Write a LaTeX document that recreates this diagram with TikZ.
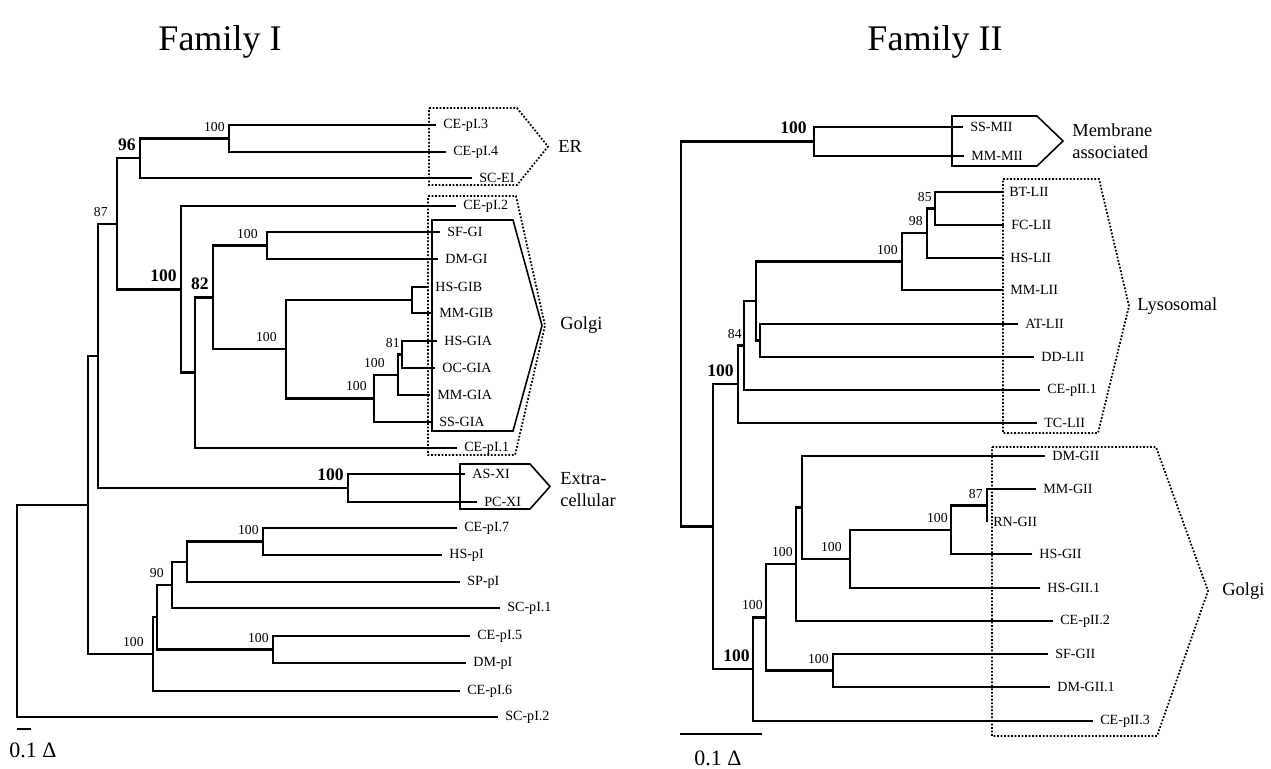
\documentclass[tikz,border=0pt]{standalone}
\usepackage{fontspec}
\setmainfont{Liberation Serif}
\usetikzlibrary{positioning}
\tikzset{
	branch/.style={line width=1.4pt},
	leaf/.style={anchor=west, inner xsep=0.14cm, inner ysep=0pt, font=\fontsize{8}{9}\selectfont},
	boot/.style={anchor=south east, inner sep=0pt, xshift=-0.08cm, yshift=0.14cm, font=\fontsize{7.8}{9}\selectfont},
	bootbold/.style={boot, font=\fontsize{10}{12}\selectfont\bfseries}
}
\begin{document}
\begin{tikzpicture}[
		x=0.02cm, y=-0.02cm,
		groupbox/.style={line width=0.9pt},
		dotbox/.style={line width=1pt, dash pattern=on 1pt off 1pt},
		grouplabel/.style={inner sep=0pt, align=left, font=\fontsize{10.5}{12.8}\selectfont},
		famtitle/.style={font=\fontsize{20.5}{24}\selectfont},
		scalebar/.style={line width=1.6pt},
		scaletext/.style={font=\fontsize{12.5}{14}\selectfont}
		]
		\useasboundingbox (0,0) rectangle (1271,768);
		
		% Family I
		\node[famtitle] (title1) at (220,42) {Family I};
		
		\node[leaf] (ce3) at (436,125) {CE-pI.3};
		\node[leaf] (ce4) at (446,152) {CE-pI.4};
		\node[leaf] (scei) at (472,178) {SC-EI};
		\node[leaf] (ce2) at (456,206) {CE-pI.2};
		\node[leaf] (sfgi) at (440,232) {SF-GI};
		\node[leaf] (dmgi) at (438,259) {DM-GI};
		\node[leaf] (hsgib) at (428,287) {HS-GIB};
		\node[leaf] (mmgib) at (432,313) {MM-GIB};
		\node[leaf] (hsgia) at (437,341) {HS-GIA};
		\node[leaf] (ocgia) at (435,368) {OC-GIA};
		\node[leaf] (mmgia) at (430,395) {MM-GIA};
		\node[leaf] (ssgia) at (432,422) {SS-GIA};
		\node[leaf] (ce1) at (457,448) {CE-pI.1};
		\node[leaf] (asxi) at (465,474) {AS-XI};
		\node[leaf] (pcxi) at (477,502) {PC-XI};
		\node[leaf] (ce7) at (457,528) {CE-pI.7};
		\node[leaf] (hspi) at (442,555) {HS-pI};
		\node[leaf] (sppi) at (460,582) {SP-pI};
		\node[leaf] (sc1) at (500,608) {SC-pI.1};
		\node[leaf] (ce5) at (470,636) {CE-pI.5};
		\node[leaf] (dmpi) at (466,663) {DM-pI};
		\node[leaf] (ce6) at (460,691) {CE-pI.6};
		\node[leaf] (sc2) at (498,717) {SC-pI.2};
		
		\coordinate (a1) at (229,138.5);
		\coordinate (a2) at (140,158.25);
		\coordinate (gib) at (412,300);
		\coordinate (g81) at (402,354.5);
		\coordinate (g100i) at (398,374.75);
		\coordinate (g100o) at (374,398.4);
		\coordinate (g286) at (286,349.2);
		\coordinate (g100sf) at (267,245.5);
		\coordinate (g82) at (213,297.35);
		\coordinate (g195) at (195,372.7);
		\coordinate (g100b) at (181,289.3);
		\coordinate (n87) at (117,223.8);
		\coordinate (xi) at (348,488);
		\coordinate (n98) at (98,355.9);
		\coordinate (p100a) at (263,541.5);
		\coordinate (p187) at (187,561.75);
		\coordinate (p90) at (172,584.9);
		\coordinate (p100b) at (273,649.5);
		\coordinate (p157) at (157,617.2);
		\coordinate (p100c) at (153,654.1);
		\coordinate (n88) at (88,505);
		\coordinate (root1) at (17,611);
		
		\draw[branch] (ce3.west) -| (a1) |- (ce4.west);
		\draw[branch] (a1) -| (a2) |- (scei.west);
		\draw[branch] (hsgib.west) -| (gib) |- (mmgib.west);
		\draw[branch] (hsgia.west) -| (g81) |- (ocgia.west);
		\draw[branch] (g81) -| (g100i) |- (mmgia.west);
		\draw[branch] (g100i) -| (g100o) |- (ssgia.west);
		\draw[branch] (gib) -| (g286) |- (g100o);
		\draw[branch] (sfgi.west) -| (g100sf) |- (dmgi.west);
		\draw[branch] (g100sf) -| (g82) |- (g286);
		\draw[branch] (g82) -| (g195) |- (ce1.west);
		\draw[branch] (ce2.west) -| (g100b) |- (g195);
		\draw[branch] (a2) -| (n87) |- (g100b);
		\draw[branch] (asxi.west) -| (xi) |- (pcxi.west);
		\draw[branch] (n87) -| (n98) |- (xi);
		\draw[branch] (ce7.west) -| (p100a) |- (hspi.west);
		\draw[branch] (p100a) -| (p187) |- (sppi.west);
		\draw[branch] (p187) -| (p90) |- (sc1.west);
		\draw[branch] (ce5.west) -| (p100b) |- (dmpi.west);
		\draw[branch] (p90) -| (p157) |- (p100b);
		\draw[branch] (p157) -| (p100c) |- (ce6.west);
		\draw[branch] (n98) -| (n88) |- (p100c);
		\draw[branch] (n88) -| (root1) |- (sc2.west);
		
		\node[boot] (ba1) at (a1) {100};
		\node[bootbold] (ba2) at (a2) {96};
		\node[boot, xshift=-0.1cm] (bn87) at (n87) {87};
		\node[bootbold] (bg100b) at (g100b) {100};
		\node[bootbold] (bg82) at (g82) {82};
		\node[boot, xshift=-0.1cm] (bg100sf) at (g100sf) {100};
		\node[boot, xshift=-0.1cm] (bg286) at (g286) {100};
		\node[boot, xshift=0.04cm] (bg81) at (g81) {81};
		\node[boot, xshift=-0.18cm] (bg100i) at (g100i) {100};
		\node[boot, xshift=-0.06cm] (bg100o) at (g100o) {100};
		\node[bootbold] (bxi) at (xi) {100};
		\node[boot] (bp100a) at (p100a) {100};
		\node[boot, xshift=-0.08cm] (bp90) at (p90) {90};
		\node[boot] (bp100b) at (p100b) {100};
		\node[boot, xshift=-0.1cm] (bp100c) at (p100c) {100};
		
		% compartments, Family I
		\coordinate (ertip) at (548,146.5);
		\coordinate (golgitip) at (545,325.5);
		\coordinate (extratip) at (550,486.5);
		\draw[dotbox] (429,108) -- (517,108) -- (ertip) -- (517,185) -- (429,185) -- cycle;
		\draw[dotbox] (428,196) -- (516,196) -- (golgitip) -- (515,455) -- (428,455) -- cycle;
		\draw[groupbox] (432,220) -- (513,220) -- (542,325.5) -- (513,431) -- (432,431) -- cycle;
		\draw[groupbox] (460,464) -- (530,464) -- (extratip) -- (530,509) -- (460,509) -- cycle;
		\node[grouplabel, right=0.2cm of ertip] (er) {ER};
		\node[grouplabel, right=0.3cm of golgitip] (golgi1) {Golgi};
		\node[grouplabel, right=0.2cm of extratip, yshift=-0.06cm] (extra) {Extra-\\cellular};
		
		\coordinate (sb1a) at (17,729);
		\coordinate (sb1b) at (31,729);
		\draw[scalebar] (sb1a) -- (sb1b);
		\node[scaletext] (sc1text) at (33,750) {0.1 Δ};
		
		% Family II
		\node[famtitle] (title2) at (935,42) {Family II};
		
		\node[leaf] (ssmii) at (963,127) {SS-MII};
		\node[leaf] (mmmii) at (964,156) {MM-MII};
		\node[leaf] (btlii) at (1002,192) {BT-LII};
		\node[leaf] (fclii) at (1004,225) {FC-LII};
		\node[leaf] (hslii) at (1003,258) {HS-LII};
		\node[leaf] (mmlii) at (1003,290) {MM-LII};
		\node[leaf] (atlii) at (1018,324) {AT-LII};
		\node[leaf] (ddlii) at (1034,357) {DD-LII};
		\node[leaf] (cep1) at (1040,390) {CE-pII.1};
		\node[leaf] (tclii) at (1037,423) {TC-LII};
		\node[leaf] (dmgii) at (1045,456) {DM-GII};
		\node[leaf] (mmgii) at (1036,489) {MM-GII};
		\node[leaf, inner xsep=0.12cm] (rngii) at (987,522) {RN-GII};
		\node[leaf] (hsgii) at (1032,554) {HS-GII};
		\node[leaf] (hsgii1) at (1040,588) {HS-GII.1};
		\node[leaf] (cep2) at (1053,621) {CE-pII.2};
		\node[leaf] (sfgii) at (1048,654) {SF-GII};
		\node[leaf] (dmgii1) at (1050,687) {DM-GII.1};
		\node[leaf] (cep3) at (1093,721) {CE-pII.3};
		
		\coordinate (m100) at (814,141.5);
		\coordinate (l85) at (935,208.5);
		\coordinate (l98) at (927,233.25);
		\coordinate (l100) at (902,261.6);
		\coordinate (l760) at (760,340.5);
		\coordinate (l756) at (756,301);
		\coordinate (l84) at (744,345.5);
		\coordinate (l100b) at (738,384.25);
		\coordinate (g87) at (987,505.5);
		\coordinate (g100a) at (951,529.75);
		\coordinate (g100c) at (850,558.9);
		\coordinate (g802) at (802,507.4);
		\coordinate (g796) at (796,564.2);
		\coordinate (gsf) at (833,670.5);
		\coordinate (g766) at (766,617.35);
		\coordinate (g753) at (753,669.2);
		\coordinate (n713) at (713,526.7);
		\coordinate (root2) at (681,334);
		
		\draw[branch] (ssmii.west) -| (m100) |- (mmmii.west);
		\draw[branch] (btlii.west) -| (l85) |- (fclii.west);
		\draw[branch] (l85) -| (l98) |- (hslii.west);
		\draw[branch] (l98) -| (l100) |- (mmlii.west);
		\draw[branch] (atlii.west) -| (l760) |- (ddlii.west);
		\draw[branch] (l100) -| (l756) |- (l760);
		\draw[branch] (l756) -| (l84) |- (cep1.west);
		\draw[branch] (l84) -| (l100b) |- (tclii.west);
		\draw[branch] (mmgii.west) -| (g87) |- (rngii.west);
		\draw[branch] (g87) -| (g100a) |- (hsgii.west);
		\draw[branch] (g100a) -| (g100c) |- (hsgii1.west);
		\draw[branch] (dmgii.west) -| (g802) |- (g100c);
		\draw[branch] (g802) -| (g796) |- (cep2.west);
		\draw[branch] (sfgii.west) -| (gsf) |- (dmgii1.west);
		\draw[branch] (g796) -| (g766) |- (gsf);
		\draw[branch] (g766) -| (g753) |- (cep3.west);
		\draw[branch] (l100b) -| (n713) |- (g753);
		\draw[branch] (m100) -| (root2) |- (n713);
		
		\node[bootbold, xshift=-0.06cm] (bm100) at (m100) {100};
		\node[boot, xshift=0.02cm] (bl85) at (l85) {85};
		\node[boot] (bl98) at (l98) {98};
		\node[boot] (bl100) at (l100) {100};
		\node[boot, xshift=0.04cm] (bl84) at (l84) {84};
		\node[bootbold] (bl100b) at (l100b) {100};
		\node[boot] (bg87) at (g87) {87};
		\node[boot, xshift=0.02cm] (bg100a) at (g100a) {100};
		\node[boot, xshift=-0.08cm] (bg100c) at (g100c) {100};
		\node[boot, xshift=0.02cm] (bg796) at (g796) {100};
		\node[boot, xshift=0.02cm] (bg766) at (g766) {100};
		\node[boot] (bgsf) at (gsf) {100};
		\node[bootbold, xshift=0.02cm] (bg753) at (g753) {100};
		
		% compartments, Family II
		\coordinate (memtip) at (1063,141);
		\coordinate (lysotip) at (1129,306);
		\coordinate (golgitwotip) at (1208,591);
		\draw[groupbox] (952,116) -- (1037,116) -- (memtip) -- (1037,166) -- (952,166) -- cycle;
		\draw[dotbox] (1003,179) -- (1099,179) -- (lysotip) -- (1098,433) -- (1003,433) -- cycle;
		\draw[dotbox] (992,447) -- (1156,447) -- (golgitwotip) -- (1157,736) -- (992,736) -- cycle;
		\node[grouplabel, right=0.18cm of memtip] (membrane) {Membrane\\associated};
		\node[grouplabel, right=0.16cm of lysotip] (lyso) {Lysosomal};
		\node[grouplabel, right=0.28cm of golgitwotip] (golgi2) {Golgi};
		
		\coordinate (sb2a) at (680,734);
		\coordinate (sb2b) at (762,734);
		\draw[scalebar] (sb2a) -- (sb2b);
		\node[scaletext] (sc2text) at (718,758) {0.1 Δ};
	\end{tikzpicture}
\end{document}
